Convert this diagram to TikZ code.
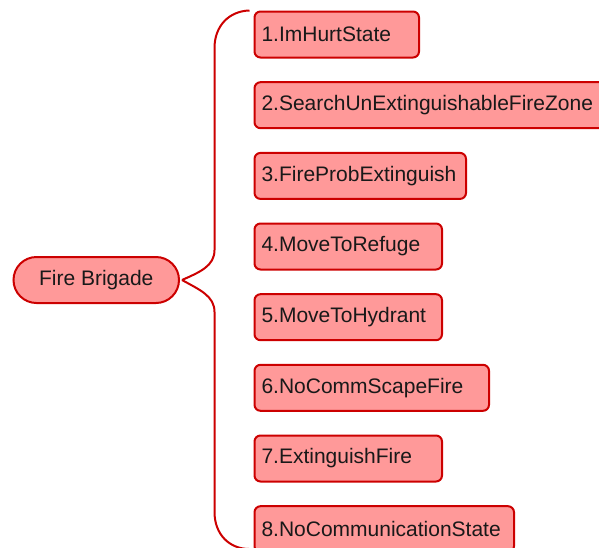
\documentclass[tikz,border=0pt]{standalone}
\usepackage{fontspec}
\setmainfont{Liberation Sans}
\definecolor{boxfill}{RGB}{255,153,153}
\definecolor{boxline}{RGB}{204,0,0}
\definecolor{txt}{RGB}{25,25,25}
\begin{document}
\begin{tikzpicture}[x=1pt,y=-1pt,
  item/.style={draw=boxline, fill=boxfill, line width=2pt, rounded corners=6pt,
    minimum height=46pt, anchor=west, inner xsep=7pt, inner ysep=0pt,
    text width=#1-14.5pt, align=left, text=txt,
    font=\fontsize{21}{25}\selectfont},
  rootbox/.style={draw=boxline, fill=boxfill, line width=2pt, rounded corners=23pt,
    minimum height=46pt, minimum width=165.5pt, inner sep=0pt, text=txt,
    font=\fontsize{21}{25}\selectfont},
  brace/.style={draw=boxline, line width=2pt}]
\useasboundingbox (0,0) rectangle (599,547);
\clip (0,0) rectangle (599,547);
\node[rootbox] (root) at (96.25,280) {Fire Brigade};
\node[item=165pt] (b1) at (253.5,34.5) {1.ImHurtState};
\node[item=360pt] (b2) at (253.5,105.2) {2.SearchUnExtinguishableFireZone};
\node[item=212pt] (b3) at (253.5,175.9) {3.FireProbExtinguish};
\node[item=188pt] (b4) at (253.5,246.5) {4.MoveToRefuge};
\node[item=188pt] (b5) at (253.5,317.2) {5.MoveToHydrant};
\node[item=235pt] (b6) at (253.5,387.8) {6.NoCommScapeFire};
\node[item=188pt] (b7) at (253.5,458.5) {7.ExtinguishFire};
\node[item=260pt] (b8) at (253.5,529.2) {8.NoCommunicationState};
\coordinate (tip) at ([xshift=2pt]root.east);
\coordinate (top) at ([xshift=-4pt]b1.north west);
\coordinate (bot) at (249.5,549);
\draw[brace] (tip) .. controls (200,272) and (214.5,266) .. (214.5,250)
  -- (214.5,48) .. controls (214.5,26) and (229,11) .. (top);
\draw[brace] (tip) .. controls (200,290) and (214.5,296) .. (214.5,312)
  -- (214.5,512) .. controls (214.5,534) and (229,549) .. (bot);
\end{tikzpicture}
\end{document}
